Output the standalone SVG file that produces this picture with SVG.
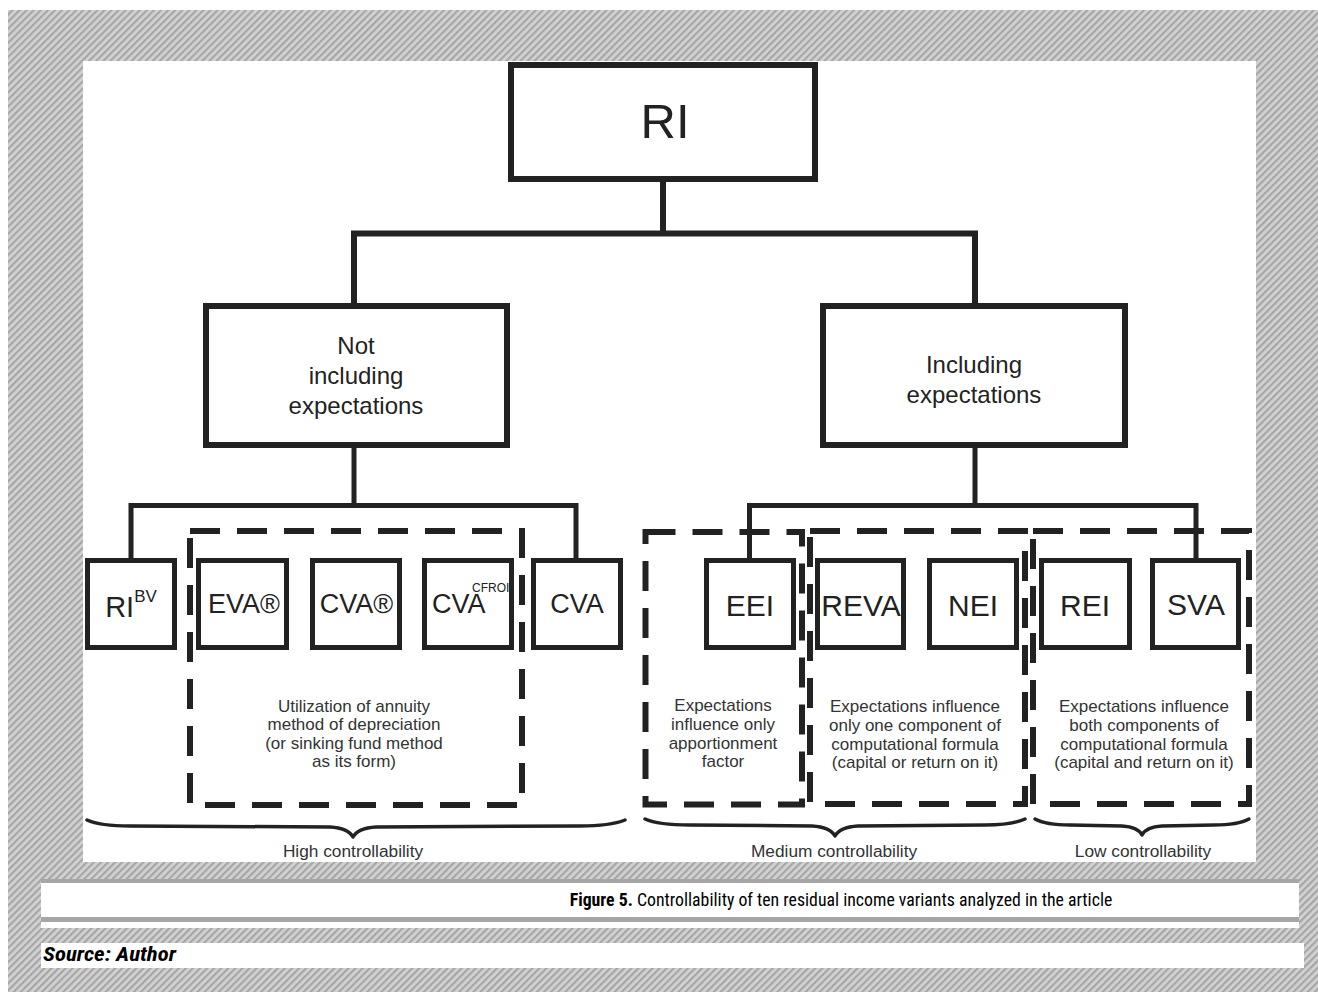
<svg xmlns="http://www.w3.org/2000/svg" width="1318" height="992" viewBox="0 0 1318 992">
<defs>
<pattern id="hatch" width="5" height="5" patternUnits="userSpaceOnUse" patternTransform="rotate(45)">
<rect width="5" height="5" fill="#d2d2d2"/>
<rect width="2.2" height="5" fill="#a6a6a6"/>
</pattern>
<style>
.box{fill:#fff;stroke:#222;stroke-width:6}
.leaf{fill:#fff;stroke:#222;stroke-width:5}
.dash{fill:none;stroke:#222;stroke-width:6;stroke-dasharray:30 17}
.conn{fill:none;stroke:#222;stroke-linecap:square}
.brace{fill:none;stroke:#222;stroke-width:3.5;stroke-linejoin:round;stroke-linecap:round}
text{font-family:"Liberation Sans",Arial,sans-serif;fill:#222}
.big{font-size:49px}
.mid{font-size:24px}
.lf{font-size:30px}
.lf27{font-size:27px}
.sm{font-size:17px;fill:#333}
.lab{font-size:17.3px;fill:#333}
.cap{font-family:"Liberation Sans Narrow","Roboto Condensed","Liberation Sans",Arial,sans-serif;font-size:17.8px;fill:#000}
.src{font-family:"Liberation Sans Narrow","Roboto Condensed","Liberation Sans",Arial,sans-serif;font-size:20px;font-weight:bold;font-style:italic;fill:#000}
</style>
</defs>
<rect x="0" y="0" width="1318" height="992" fill="#fff"/>
<rect x="8" y="10" width="1310" height="982" fill="url(#hatch)"/>
<rect x="83" y="61" width="1173" height="801" fill="#fff"/>

<g id="connectors">
<path class="conn" stroke-width="6" d="M663,182 V233.5 M354,303 V233.5 H975 V303"/>
<path class="conn" stroke-width="5" d="M354,448 V505.5 M131,558 V505.5 H576 V558"/>
<path class="conn" stroke-width="5" d="M975,448 V505.5 M749.5,558 V505.5 H1196 V558"/>
</g>

<g id="node-ri">
<rect class="box" x="511" y="65" width="304" height="114"/>
<text class="big" x="665" y="138" text-anchor="middle">RI</text>
</g>
<g id="node-not-including">
<rect class="box" x="206" y="306" width="301" height="139"/>
<text class="mid" text-anchor="middle"><tspan x="356" y="354">Not</tspan><tspan x="356" y="384">including</tspan><tspan x="356" y="414">expectations</tspan></text>
</g>
<g id="node-including">
<rect class="box" x="823" y="306" width="302" height="139"/>
<text class="mid" text-anchor="middle"><tspan x="974" y="373">Including</tspan><tspan x="974" y="403">expectations</tspan></text>
</g>

<g id="node-ribv">
<rect class="leaf" x="87.5" y="560.5" width="87" height="87"/>
<text x="131" y="617" text-anchor="middle"><tspan font-size="29">RI</tspan><tspan font-size="17" dy="-15">BV</tspan></text>
</g>
<g id="node-eva">
<rect class="leaf" x="198.5" y="560.5" width="88" height="87"/>
<text class="lf27" x="244" y="613" text-anchor="middle">EVA®</text>
</g>
<g id="node-cva-r">
<rect class="leaf" x="312.5" y="560.5" width="87" height="87"/>
<text class="lf27" x="356.5" y="613" text-anchor="middle">CVA®</text>
</g>
<g id="node-cva-cfroi">
<rect class="leaf" x="424.5" y="560.5" width="87" height="87"/>
<text class="lf27" x="432" y="613">CVA</text>
<text x="472" y="592" font-size="12">CFROI</text>
</g>
<g id="node-cva">
<rect class="leaf" x="533.5" y="560.5" width="87" height="87"/>
<text class="lf27" x="577" y="613" text-anchor="middle">CVA</text>
</g>
<g id="node-eei">
<rect class="leaf" x="706.5" y="560.5" width="87" height="87"/>
<text class="lf" x="750" y="616" text-anchor="middle">EEI</text>
</g>
<g id="node-reva">
<rect class="leaf" x="817.5" y="560.5" width="86" height="87"/>
<text class="lf" x="861" y="616" text-anchor="middle">REVA</text>
</g>
<g id="node-nei">
<rect class="leaf" x="929.5" y="560.5" width="87" height="87"/>
<text class="lf" x="973" y="616" text-anchor="middle">NEI</text>
</g>
<g id="node-rei">
<rect class="leaf" x="1041.5" y="560.5" width="88" height="87"/>
<text class="lf" x="1085" y="616" text-anchor="middle">REI</text>
</g>
<g id="node-sva">
<rect class="leaf" x="1152.5" y="560.5" width="86" height="87"/>
<text class="lf" x="1196" y="615" text-anchor="middle">SVA</text>
</g>

<g id="group-annuity">
<rect class="dash" x="190" y="531" width="332" height="274"/>
<text class="sm" text-anchor="middle"><tspan x="354" y="712">Utilization of annuity</tspan><tspan x="354" y="730">method of depreciation</tspan><tspan x="354" y="749">(or sinking fund method</tspan><tspan x="354" y="767">as its form)</tspan></text>
</g>
<g id="group-apportionment">
<rect class="dash" x="645.5" y="532" width="156.5" height="272.5"/>
<text class="sm" text-anchor="middle"><tspan x="723" y="711">Expectations</tspan><tspan x="723" y="730">influence only</tspan><tspan x="723" y="749">apportionment</tspan><tspan x="723" y="767">factor</tspan></text>
</g>
<g id="group-one-component">
<rect class="dash" x="810" y="531" width="215" height="273"/>
<text class="sm" text-anchor="middle"><tspan x="915" y="712">Expectations influence</tspan><tspan x="915" y="731">only one component of</tspan><tspan x="915" y="750">computational formula</tspan><tspan x="915" y="768">(capital or return on it)</tspan></text>
</g>
<g id="group-both-components">
<rect class="dash" x="1033" y="531" width="216" height="273"/>
<text class="sm" text-anchor="middle"><tspan x="1144" y="712">Expectations influence</tspan><tspan x="1144" y="731">both components of</tspan><tspan x="1144" y="750">computational formula</tspan><tspan x="1144" y="768">(capital and return on it)</tspan></text>
</g>

<g id="braces">
<path class="brace" d="M87,820 Q100,826 130,826 L330,827 Q348,828 353,837 Q358,828 376,827 L580,826 Q610,826 625,820"/>
<path class="brace" d="M645,819 Q658,825 690,825 L812,826 Q830,827 835,836 Q840,827 858,826 L985,825 Q1012,825 1025,819"/>
<path class="brace" d="M1035,819 Q1046,825 1070,825 L1122,826 Q1138,827 1142,835 Q1146,827 1162,826 L1214,825 Q1238,825 1249,819"/>
<text class="lab" x="353" y="857" text-anchor="middle">High controllability</text>
<text class="lab" x="834" y="857" text-anchor="middle">Medium controllability</text>
<text class="lab" x="1143" y="857" text-anchor="middle">Low controllability</text>
</g>

<g id="caption">
<rect x="41" y="879" width="1258" height="4" fill="#a6a6a6"/>
<rect x="41" y="883" width="1258" height="34" fill="#fff"/>
<rect x="41" y="917" width="1258" height="5" fill="#a6a6a6"/>
<rect x="41" y="922" width="1258" height="6" fill="#fff"/>
<text class="cap" x="841" y="906" text-anchor="middle"><tspan font-weight="bold">Figure 5.</tspan> Controllability of ten residual income variants analyzed in the article</text>
<rect x="41" y="943" width="1263" height="25" fill="#fff"/>
<text class="src" x="43" y="961" textLength="133" lengthAdjust="spacingAndGlyphs">Source: Author</text>
</g>
</svg>
